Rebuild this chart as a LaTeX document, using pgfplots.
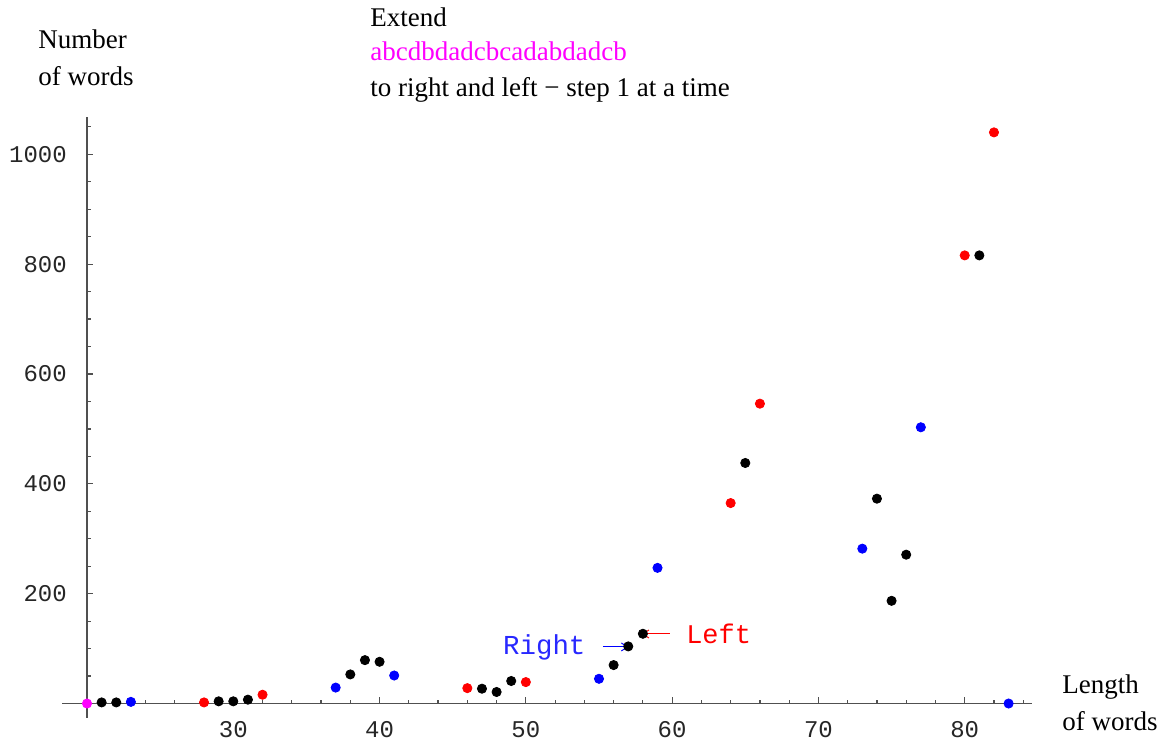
\documentclass[border=0pt]{standalone}
\usepackage{pgfplots}
\pgfplotsset{compat=1.18}
\usepackage{fontspec}
\setmainfont{Liberation Serif}
\setmonofont{Liberation Mono}
\usetikzlibrary{arrows.meta}
\definecolor{axgray}{RGB}{80,80,80}
\definecolor{mag}{RGB}{255,0,255}
\definecolor{rd}{RGB}{255,0,0}
\definecolor{bl}{RGB}{0,0,255}
\definecolor{txtblue}{RGB}{40,40,255}
\begin{document}
\begin{tikzpicture}
\useasboundingbox (-43.5pt,-13.1pt) rectangle (540.5pt,358.9pt);
\begin{axis}[
 at={(0,0)}, anchor=south west, scale only axis,
 width=472.5pt, height=300.4pt,
 xmin=20, xmax=84.6, ymin=-26, ymax=1068,
 axis x line=middle, axis y line=left,
 axis line style={-, axgray, line width=0.7pt},
 xtick={30,40,...,80}, minor xtick={22,24,...,84},
 ytick={200,400,...,1000}, minor ytick={50,100,...,1050},
 tick align=center,
 major tick length=3.2pt, minor tick length=1.8pt,
 every major x tick/.append style={yshift=1.6pt},
 every minor x tick/.append style={yshift=0.9pt},
 every major y tick/.append style={xshift=1.6pt},
 every minor y tick/.append style={xshift=0.9pt},
 tick style={axgray, line width=0.6pt},
 tick label style={font=\ttfamily\fontsize{12}{12}\selectfont, text=black!85},
 xticklabel style={yshift=-4pt},
 yticklabel style={xshift=-5pt},
 /pgf/number format/assume math mode=true,
 /pgf/number format/1000 sep={},
 clip=false,
]
\addplot[only marks, mark=*, mark size=2.3pt, draw=black, fill=black] coordinates {
 (21,2) (22,2) (29,4) (30,4) (31,7) (38,53) (39,79) (40,76)
 (47,27) (48,21) (49,41) (56,70) (57,104) (58,127) (65,438)
 (74,373) (75,187) (76,271) (81,816)
};
\addplot[only marks, mark=*, mark size=2.3pt, draw=bl, fill=bl] coordinates {
 (23,3) (37,29) (41,51) (55,45) (59,247) (73,282) (77,503) (83,0)
};
\addplot[only marks, mark=*, mark size=2.3pt, draw=rd, fill=rd] coordinates {
 (28,2) (32,16) (46,28) (50,39) (64,365) (66,546) (80,816) (82,1040)
};
\addplot[only marks, mark=*, mark size=2.3pt, draw=mag, fill=mag] coordinates {
 (20,0)
};
\draw[axgray, line width=0.7pt] (axis cs:18.3,0) -- (axis cs:20,0);
\draw[bl, line width=0.5pt, -{Straight Barb[length=3pt,width=4pt]}] (axis cs:55.27,103) -- (axis cs:57,103);
\draw[rd, line width=0.5pt, -{Straight Barb[length=3pt,width=4pt]}] (axis cs:59.85,126.6) -- (axis cs:57.94,126.6);
\node[txtblue, anchor=east, inner sep=0pt, font=\ttfamily\fontsize{13.7}{13.7}\selectfont] at (axis cs:54.1,103) {Right};
\node[rd, anchor=west, inner sep=0pt, font=\ttfamily\fontsize{13.5}{13.5}\selectfont] at (axis cs:60.94,126.6) {Left};
\end{axis}
\begin{scope}[every node/.style={inner sep=0pt, anchor=base west, font=\fontsize{13.5}{13.5}\selectfont}]
\node at (-24.5pt,334.4pt) {Number};
\node at (-24.5pt,315.9pt) {of words};
\node at (141.5pt,345.4pt) {Extend};
\node[text=mag] at (141.5pt,328.4pt) {abcdbdadcbcadabdadcb};
\node at (141.5pt,310.4pt) {to right and left − step 1 at a time};
\node at (487.5pt,11.9pt) {Length};
\node at (487.5pt,-6.6pt) {of words};
\end{scope}
\end{tikzpicture}
\end{document}
